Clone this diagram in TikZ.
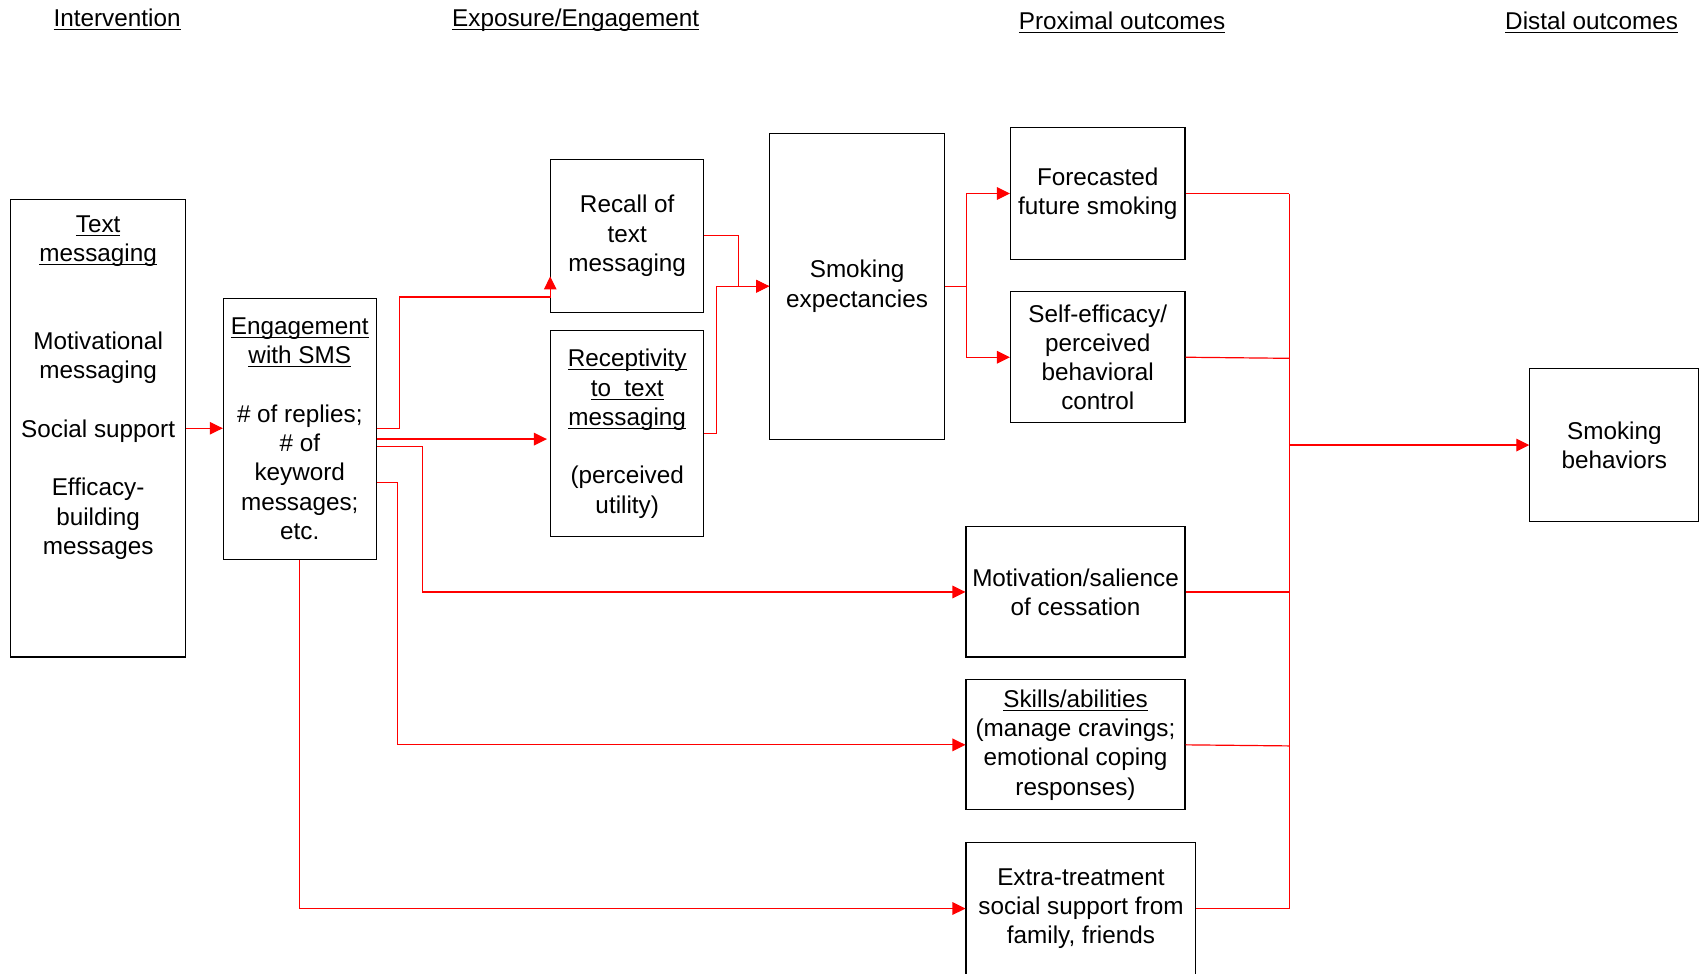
\documentclass[tikz,border=0pt]{standalone}
\usepackage{fontspec}
\setmainfont{Liberation Sans}
\usetikzlibrary{arrows.meta,calc}
\newcommand\ulin[1]{\underline{\raisebox{0pt}[\height][0pt]{#1}}}
\begin{document}
\begin{tikzpicture}[x=0.5pt,y=-0.5pt,
  every node/.style={font=\fontsize{11.2}{13.5}\selectfont},
  box/.style={draw=black,line width=0.5pt,inner sep=0pt,align=center},
  txt/.style={inner sep=0pt,align=center},
  conn/.style={draw=red,line width=0.55pt},
  arr/.style={conn,-{Triangle[length=6pt,width=5.8pt]}}]
\useasboundingbox (0,0) rectangle (1568,898);
% headers
\node[txt] (h1) at (108,18) {\ulin{Intervention}};
\node[txt] (h2) at (531,18) {\ulin{Exposure/Engagement}};
\node[txt] (h3) at (1035,21) {\ulin{Proximal outcomes}};
\node[txt] (h4) at (1468,21) {\ulin{Distal outcomes}};
% boxes
\node[box,minimum width=80.5pt,minimum height=211pt] (tm) at (90.5,395) {};
\node[txt] (tmt) at (90.5,357.5) {\ulin{Text}\\\ulin{messaging}\\~\\~\\Motivational\\messaging\\~\\Social support\\~\\Efficacy-\\building\\messages};
\node[box,minimum width=70.5pt,minimum height=120.5pt] (eng) at (276.5,395.5) {\ulin{Engagement}\\\ulin{with SMS}\\~\\\#\ of replies;\\\#\ of\\keyword\\messages;\\etc.};
\node[box,minimum width=70.5pt,minimum height=70.5pt] (rec) at (578.5,217.5) {Recall of\\text\\messaging};
\node[box,minimum width=70.5pt,minimum height=95pt] (rcp) at (578.5,400) {\ulin{Receptivity}\\\ulin{to\ \ text}\\\ulin{messaging}\\~\\(perceived\\utility)};
\node[box,minimum width=80.5pt,minimum height=141pt] (se) at (790.5,264) {Smoking\\expectancies};
\node[box,minimum width=80.5pt,minimum height=60.5pt] (fc) at (1012.5,178.5) {Forecasted\\future smoking};
\node[box,minimum width=80.5pt,minimum height=60.5pt] (sf) at (1012.5,329.5) {Self-efficacy/\\perceived\\behavioral\\control};
\node[box,minimum width=101pt,minimum height=60pt] (mo) at (992,546) {Motivation/salience\\of cessation};
\node[box,minimum width=101pt,minimum height=60pt] (sk) at (992,687) {\ulin{Skills/abilities}\\(manage cravings;\\emotional coping\\responses)};
\node[box,minimum width=106pt,minimum height=61pt] (ex) at (997,838) {Extra-treatment\\social support from\\family, friends};
\node[box,minimum width=78pt,minimum height=70.5pt] (sb) at (1489,410.5) {Smoking\\behaviors};
% connector coordinates
\coordinate (e1) at ($(eng.east)+(0,-0.5)$);
\coordinate (e2) at ($(eng.east)+(0,9.5)$);
\coordinate (e3) at ($(eng.east)+(0,16.5)$);
\coordinate (e4) at ($(eng.east)+(0,49.5)$);
\coordinate (rc) at ($(rec.west)+(0,56.5)$);
\coordinate (bx) at (1189,0);
% connectors
\draw[arr] (tm.east) -- (tm.east -| eng.west);
\draw[arr] (e1) -- ++(21,0) |- (rc) -- ++(0,-19);
\draw[arr,shorten >=1.5pt] (e2) -- (e2 -| rcp.west);
\draw[arr] (e3) -- ++(42,0) |- (mo.west);
\draw[arr] (e4) -- ++(19,0) |- (sk.west);
\draw[arr] (eng.south) |- (ex.west);
\draw[arr] (rec.east) -- ++(32,0) |- (se.west);
\draw[arr] (rcp.east) -- ++(11,0) |- (se.west);
\draw[arr] (se.east) -- ++(20,0) |- (fc.west);
\draw[arr] (se.east) -- ++(20,0) |- (sf.west);
\draw[conn] (fc.east) -- (fc.east -| bx);
\draw[conn] (sf.east) -- ($(sf.east -| bx)+(0,1)$);
\draw[conn] (mo.east) -- (mo.east -| bx);
\draw[conn] (sk.east) -- ($(sk.east -| bx)+(0,1)$);
\draw[conn] (ex.east) -- (ex.east -| bx);
\draw[conn] (fc.east -| bx) -- (ex.east -| bx);
\draw[arr] (bx |- sb.west) -- (sb.west);
\end{tikzpicture}
\end{document}
